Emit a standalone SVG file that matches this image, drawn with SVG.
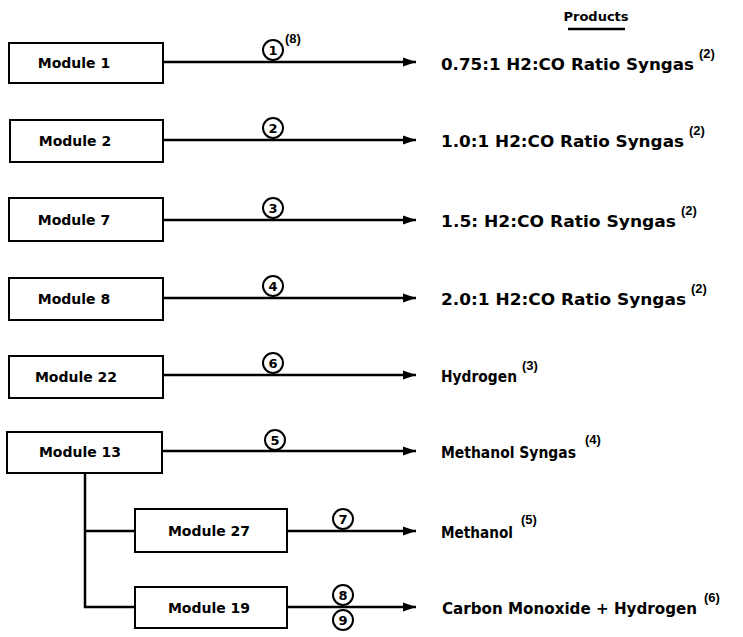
<svg xmlns="http://www.w3.org/2000/svg" width="743" height="637" viewBox="0 0 743 637">
<style>
  text { font-family: "DejaVu Sans", "Liberation Sans", Arial, sans-serif; font-weight: bold; fill: #000; }
  .box { fill: #fff; stroke: #000; stroke-width: 2; }
  .lbl { font-size: 14px; text-anchor: middle; }
  .prod { font-size: 15.5px; }
  .sup { font-family: "Liberation Sans", Arial, sans-serif; font-size: 13px; }
  .num { font-size: 13px; text-anchor: middle; }
  .circ { fill: #fff; stroke: #000; stroke-width: 2; }
  .ln { fill: none; stroke: #000; stroke-width: 2.5; }
  .arr { fill: none; stroke: #000; stroke-width: 2.5; marker-end: url(#ah); }
</style>
<defs>
  <marker id="ah" markerUnits="userSpaceOnUse" markerWidth="14" markerHeight="10" refX="13" refY="5" orient="auto">
    <path d="M0,0.5 L13,5 L0,9.5 Z" fill="#000"/>
  </marker>
</defs>
<rect width="743" height="637" fill="#fff"/>

<g id="header">
  <text x="596" y="21" font-size="13px" text-anchor="middle">Products</text>
  <line x1="568" y1="29" x2="625" y2="29" stroke="#000" stroke-width="2.5"/>
</g>

<g id="connectors">
  <path class="arr" d="M163,62 H416"/>
  <path class="arr" d="M163,140 H416"/>
  <path class="arr" d="M163,220 H416"/>
  <path class="arr" d="M163,298 H416"/>
  <path class="arr" d="M163,375 H416"/>
  <path class="arr" d="M162,451 H416"/>
  <path class="arr" d="M287,531 H416"/>
  <path class="arr" d="M287,607 H416"/>
  <path class="ln" d="M85,473 V607 H135"/>
  <path class="ln" d="M85,531 H135"/>
  <g id="c1"><circle class="circ" cx="273" cy="50" r="10"/><text class="num" x="273" y="55">1</text><text class="sup" x="285" y="43">(8)</text></g>
  <g id="c2"><circle class="circ" cx="273" cy="128" r="10"/><text class="num" x="273" y="133">2</text></g>
  <g id="c3"><circle class="circ" cx="273" cy="208" r="10"/><text class="num" x="273" y="213">3</text></g>
  <g id="c4"><circle class="circ" cx="273" cy="286" r="10"/><text class="num" x="273" y="291">4</text></g>
  <g id="c6"><circle class="circ" cx="273" cy="363" r="10"/><text class="num" x="273" y="368">6</text></g>
  <g id="c5"><circle class="circ" cx="275" cy="440" r="10"/><text class="num" x="275" y="445">5</text></g>
  <g id="c7"><circle class="circ" cx="343" cy="519" r="10"/><text class="num" x="343" y="524">7</text></g>
  <g id="c8"><circle class="circ" cx="343" cy="595" r="10"/><text class="num" x="343" y="600">8</text></g>
  <g id="c9"><circle class="circ" cx="343" cy="620" r="10"/><text class="num" x="343" y="625">9</text></g>
</g>

<g id="module1"><rect class="box" x="9" y="43" width="154" height="40"/><text class="lbl" x="74" y="68">Module 1</text></g>
<g id="module2"><rect class="box" x="10" y="120" width="153" height="42"/><text class="lbl" x="75" y="146">Module 2</text></g>
<g id="module7"><rect class="box" x="9" y="198" width="154" height="43"/><text class="lbl" x="74" y="225">Module 7</text></g>
<g id="module8"><rect class="box" x="9" y="278" width="154" height="42"/><text class="lbl" x="74" y="304">Module 8</text></g>
<g id="module22"><rect class="box" x="9" y="356" width="154" height="42"/><text class="lbl" x="76" y="382">Module 22</text></g>
<g id="module13"><rect class="box" x="7" y="432" width="155" height="41"/><text class="lbl" x="80" y="457">Module 13</text></g>
<g id="module27"><rect class="box" x="135" y="509" width="152" height="43"/><text class="lbl" x="209" y="536">Module 27</text></g>
<g id="module19"><rect class="box" x="135" y="587" width="152" height="41"/><text class="lbl" x="209" y="613">Module 19</text></g>

<g id="products">
  <text class="prod" x="441" y="70" textLength="253" lengthAdjust="spacingAndGlyphs">0.75:1 H2:CO Ratio Syngas</text><text class="sup" x="699" y="58">(2)</text>
  <text class="prod" x="441" y="147" textLength="243" lengthAdjust="spacingAndGlyphs">1.0:1 H2:CO Ratio Syngas</text><text class="sup" x="689" y="135">(2)</text>
  <text class="prod" x="441" y="227" textLength="235" lengthAdjust="spacingAndGlyphs">1.5: H2:CO Ratio Syngas</text><text class="sup" x="681" y="215">(2)</text>
  <text class="prod" x="441" y="305" textLength="245" lengthAdjust="spacingAndGlyphs">2.0:1 H2:CO Ratio  Syngas</text><text class="sup" x="691" y="293">(2)</text>
  <text class="prod" x="441" y="382" textLength="76" lengthAdjust="spacingAndGlyphs">Hydrogen</text><text class="sup" x="522" y="370">(3)</text>
  <text class="prod" x="441" y="458" textLength="135" lengthAdjust="spacingAndGlyphs">Methanol Syngas</text><text class="sup" x="585" y="444">(4)</text>
  <text class="prod" x="441" y="538" textLength="72" lengthAdjust="spacingAndGlyphs">Methanol</text><text class="sup" x="521" y="524">(5)</text>
  <text class="prod" x="442" y="614" textLength="255" lengthAdjust="spacingAndGlyphs">Carbon Monoxide + Hydrogen</text><text class="sup" x="704" y="602">(6)</text>
</g>
</svg>
